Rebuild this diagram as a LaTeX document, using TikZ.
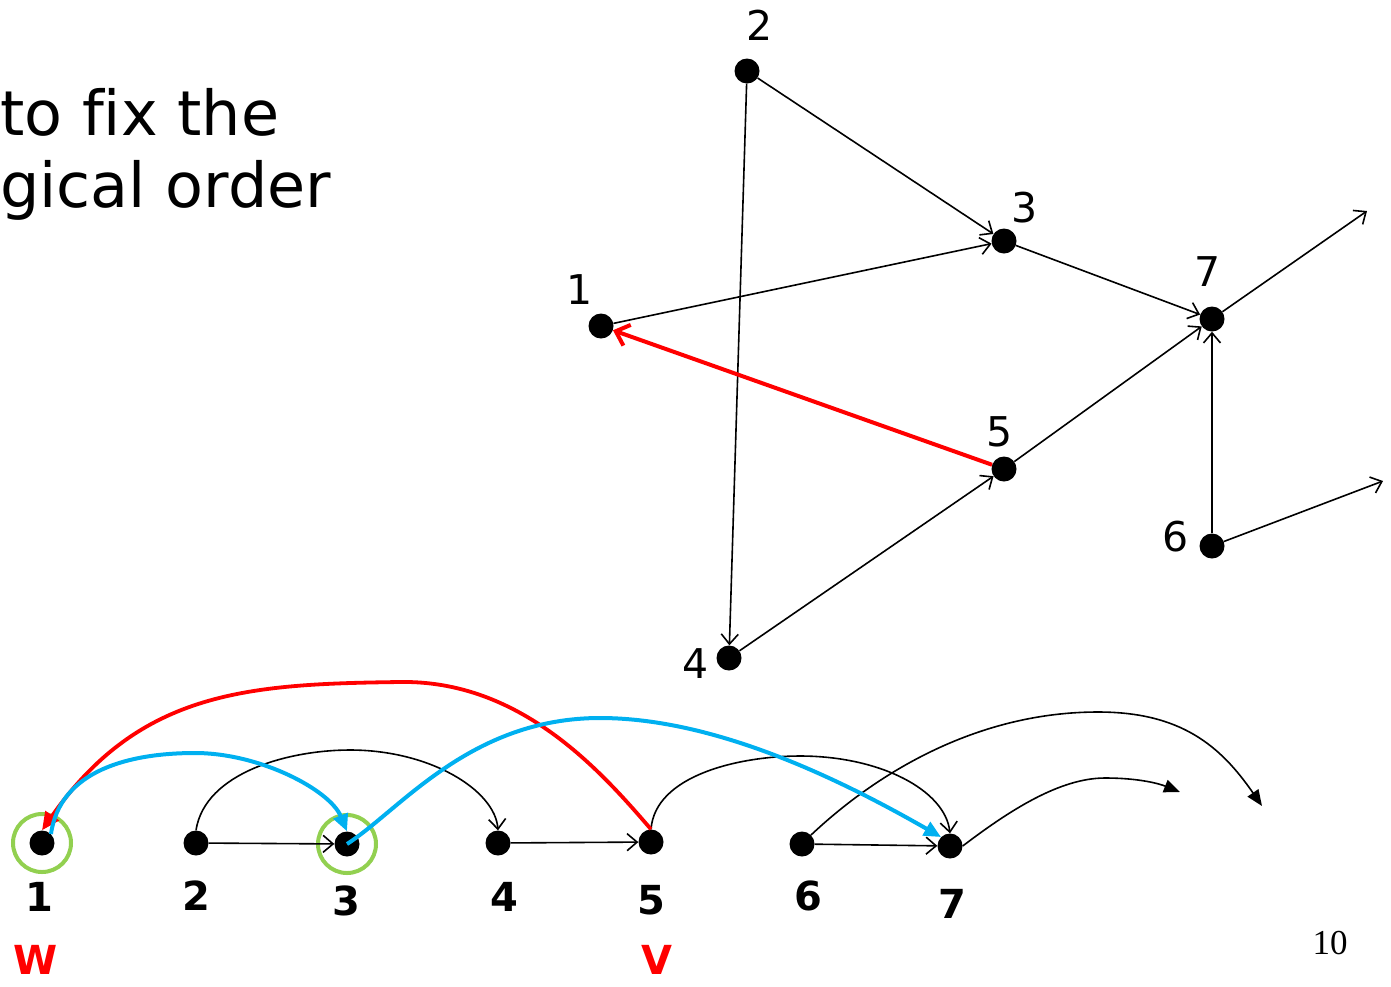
\documentclass[tikz,border=0pt]{standalone}
\usepackage{fontspec}
\setmainfont{DejaVu Sans}[Ligatures=NoCommon]
\newfontfamily\numfont{Liberation Serif}
\usetikzlibrary{arrows.meta}
\definecolor{myred}{HTML}{FF0000}
\definecolor{myblue}{HTML}{00B0F0}
\definecolor{mygreen}{HTML}{92D050}
\tikzset{
  dot/.style={circle,fill=black,inner sep=0pt,minimum size=25pt},
  ring/.style={circle,draw=mygreen,line width=4pt,inner sep=0pt,minimum size=58pt},
  edge/.style={line width=1.6pt,-{Straight Barb[length=10pt,width=17pt,line width=1.6pt]}},
  fedge/.style={line width=1.6pt,-{Triangle[length=16pt,width=13pt]}},
  redarr/.style={line width=4pt,draw=myred,-{Straight Barb[length=12pt,width=22pt,line width=4pt]}},
  redcurve/.style={line width=3.8pt,draw=myred,-{Triangle[length=18pt,width=16pt]}},
  bluecurve/.style={line width=4pt,draw=myblue,-{Triangle[length=17pt,width=15pt]}},
  toplab/.style={font=\fontsize{41}{41}\selectfont,inner sep=0pt},
  botlab/.style={font=\fontsize{40}{40}\selectfont\bfseries,inner sep=0pt},
  vwlab/.style={font=\fontsize{40}{40}\selectfont\bfseries,text=myred,inner sep=0pt},
  bigtext/.style={font=\fontsize{62}{62}\selectfont,inner sep=0pt,anchor=base west}
}
\begin{document}
\begin{tikzpicture}[x=1pt,y=-1pt]
\useasboundingbox (0,0) rectangle (1391,986);
% heading text
\node[bigtext] (h1) at (0,135) {to fix the};
\node[bigtext] (h2) at (0,207) {gical order};
% top graph
\node[dot] (T2) at (747,71) {};
\node[dot] (T3) at (1004,241) {};
\node[dot] (T1) at (601,326) {};
\node[dot] (T7) at (1212,319) {};
\node[dot] (T5) at (1004,469) {};
\node[dot] (T6) at (1212,546) {};
\node[dot] (T4) at (729,658) {};
\coordinate (f7) at (1367,211);
\coordinate (f6) at (1383,481);
\node[toplab] (l2) at (760,25) {2};
\node[toplab] (l3) at (1025,208) {3};
\node[toplab] (l1) at (580,290) {1};
\node[toplab] (l7) at (1208,272) {7};
\node[toplab] (l5) at (1000,432) {5};
\node[toplab] (l6) at (1176,537) {6};
\node[toplab] (l4) at (696,664) {4};
\draw[edge] (T2) -- (T3);
\draw[edge] (T2) -- (T4);
\draw[edge] (T1) -- (T3);
\draw[edge] (T3) -- (T7);
\draw[edge] (T5) -- (T7);
\draw[edge] (T4) -- (T5);
\draw[edge] (T6) -- (T7);
\draw[edge] (T7) -- (f7);
\draw[edge] (T6) -- (f6);
\draw[redarr] (T5) -- (T1);
% bottom row
\node[ring] (g1) at (42,843) {};
\node[ring] (g3) at (347,844) {};
\node[dot] (B1) at (42,843) {};
\node[dot] (B2) at (196,843) {};
\node[dot] (B3) at (347,844) {};
\node[dot] (B4) at (498,843) {};
\node[dot] (B5) at (651,842) {};
\node[dot] (B6) at (802,844) {};
\node[dot] (B7) at (950,846) {};
\coordinate (e6) at (1262,806);
\coordinate (e7) at (1180,792);
\node[botlab] (n1) at (39,897) {1};
\node[botlab] (n2) at (196,896) {2};
\node[botlab] (n3) at (346,901) {3};
\node[botlab] (n4) at (504,897) {4};
\node[botlab] (n5) at (651,900) {5};
\node[botlab] (n6) at (808,896) {6};
\node[botlab] (n7) at (952,904) {7};
\node[vwlab] (w) at (36,960) {W};
\node[vwlab] (v) at (657,960) {V};
\node[font=\fontsize{35}{35}\selectfont\numfont,inner sep=0pt] (pg) at (1330,943) {10};
% straight bottom edges
\draw[edge] (B2) -- (B3);
\draw[edge] (B4) -- (B5);
\draw[edge] (B6) -- (B7);
% black arcs
\draw[edge] (B2.north) .. controls (205,772) and (290,750) .. (350,750) .. controls (430,750) and (495,790) .. (B4.north);
\draw[edge] (B5.north) .. controls (655,775) and (740,756) .. (800,756) .. controls (880,756) and (945,790) .. (B7.north);
\draw[fedge] (B6.north east) .. controls (880,770) and (980,712) .. (1098,712) .. controls (1180,712) and (1220,745) .. (e6);
\draw[fedge] (B7.east) .. controls (1010,810) and (1060,778) .. (1105,778) .. controls (1140,778) and (1160,784) .. (e7);
% red and blue curves
\draw[redcurve] (B5.north) .. controls (600,770) and (520,680) .. (400,682) .. controls (250,684) and (140,690) .. (B1.north);
\draw[bluecurve] (B1.north east) .. controls (60,770) and (130,753) .. (195,753) .. controls (260,753) and (330,790) .. (B3.north);
\draw[bluecurve] (B3.center) .. controls (400,810) and (470,718) .. (600,718) .. controls (720,718) and (850,785) .. (B7.north west);
\end{tikzpicture}
\end{document}
